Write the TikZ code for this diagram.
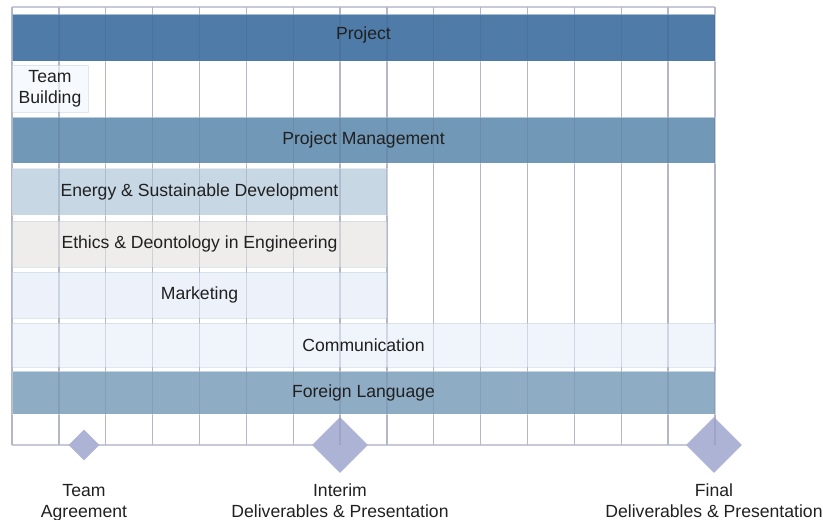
\documentclass[tikz,border=0pt]{standalone}
\usepackage{fontspec}
\setmainfont{Liberation Sans}
\usetikzlibrary{shapes.geometric}
\definecolor{cproj}{HTML}{4F7BA8}
\definecolor{cpm}{HTML}{7198B6}
\definecolor{cenergy}{HTML}{BFD1E0}
\definecolor{cethics}{HTML}{EDEAE9}
\definecolor{cmark}{HTML}{EAF0F9}
\definecolor{ccomm}{HTML}{EEF2FA}
\definecolor{cfl}{HTML}{8FACC5}
\definecolor{cteam}{HTML}{F6FAFE}
\definecolor{cdiam}{HTML}{ADB3D4}
\definecolor{cgrid}{HTML}{C8C8D6}
\definecolor{cgriddark}{HTML}{303A60}
\definecolor{ctext}{HTML}{202020}
\begin{document}
\begin{tikzpicture}[x=1pt,y=-1pt,
  font=\fontsize{17.6}{21}\selectfont,
  bar/.style={rectangle, inner sep=0pt, text=ctext, fill opacity=0.88, text opacity=1, draw opacity=0.5, line width=0.8pt},
  darkbar/.style={bar, fill opacity=1, draw=white},
  milestone/.style={diamond, inner sep=0pt, fill=cdiam, draw=none},
  mlabel/.style={align=center, text=ctext, inner sep=0pt},
  gridline/.style={draw=cgrid, line width=1.3pt},
  gridover/.style={draw=cgriddark, draw opacity=0.12, line width=1.3pt}
]
\useasboundingbox (0,0) rectangle (823,520);
% grid beneath
\foreach \k in {0,...,15} {
  \draw[gridline] ({12+46.867*\k},7) -- ({12+46.867*\k},445);
}
\draw[gridline] (12,7) -- (715,7);
\draw[gridline] (12,445) -- (715,445);
% bars
\node[darkbar, fill=cproj, minimum width=703pt, minimum height=47pt] (project) at (363.5,37.5) {\raisebox{3pt}[\height][\depth]{Project}};
\node[bar, fill=cteam, draw=cenergy, fill opacity=1, minimum width=76pt, minimum height=47pt, align=center] (teambuilding) at (50,88.5) {Team\\Building};
\node[darkbar, fill=cpm, minimum width=703pt, minimum height=46pt] (pm) at (363.5,140) {Project Management};
\node[bar, fill=cenergy, draw=white, minimum width=375pt, minimum height=47pt] (energy) at (199.5,191.5) {Energy \& Sustainable Development};
\node[bar, fill=cethics, draw=cenergy, minimum width=375pt, minimum height=46pt] (ethics) at (199.5,244) {Ethics \& Deontology in Engineering};
\node[bar, fill=cmark, draw=cenergy, minimum width=375pt, minimum height=46pt] (marketing) at (199.5,295) {Marketing};
\node[bar, fill=ccomm, draw=cenergy, minimum width=703pt, minimum height=44pt] (comm) at (363.5,345) {Communication};
\node[darkbar, fill=cfl, minimum width=703pt, minimum height=43pt] (fl) at (363.5,392.5) {Foreign Language};
% milestones
\node[milestone, minimum width=31pt, minimum height=31pt] (m1) at (84,445) {};
\node[milestone, minimum width=56pt, minimum height=56pt] (m2) at (340,445) {};
\node[milestone, minimum width=56pt, minimum height=56pt] (m3) at (714,445) {};
% grid overlay
\foreach \k in {0,...,15} {
  \draw[gridover] ({12+46.867*\k},7) -- ({12+46.867*\k},445);
}
% labels
\node[mlabel] (l1) at (84,502.5) {Team\\Agreement};
\node[mlabel] (l2) at (340,500.5) {Interim\\Deliverables \& Presentation};
\node[mlabel] (l3) at (714,500.5) {Final\\Deliverables \& Presentation};
\end{tikzpicture}
\end{document}
